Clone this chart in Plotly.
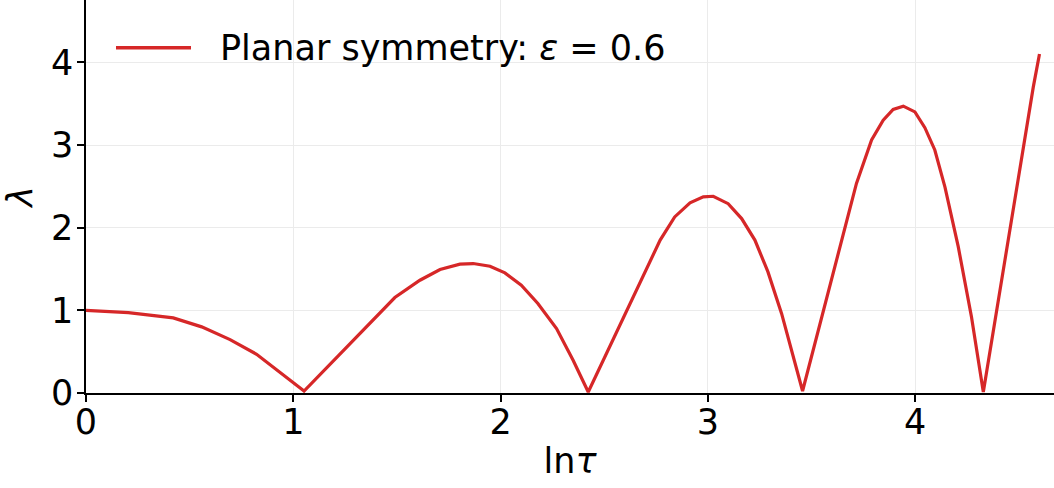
import plotly.graph_objects as go

# data
ln_tau = [0, 0.204, 0.421, 0.558, 0.695, 0.823, 1.052, 1.49, 1.611, 1.708, 1.804, 1.868,
          1.949, 2.021, 2.10, 2.18, 2.27, 2.35, 2.423, 2.77, 2.84, 2.914, 2.978, 3.026,
          3.098, 3.163, 3.227, 3.29, 3.356, 3.457, 3.717, 3.79, 3.846, 3.894, 3.943,
          3.999, 4.047, 4.095, 4.144, 4.208, 4.272, 4.329, 4.57, 4.60]
lam = [1.0, 0.973, 0.908, 0.80, 0.646, 0.469, 0.024, 1.155, 1.364, 1.494, 1.558, 1.566,
       1.534, 1.453, 1.304, 1.082, 0.78, 0.396, 0.012, 1.85, 2.13, 2.30, 2.373, 2.38,
       2.29, 2.11, 1.85, 1.465, 0.96, 0.024, 2.535, 3.06, 3.30, 3.43, 3.47,
       3.40, 3.21, 2.94, 2.49, 1.77, 0.92, 0.012, 3.70, 4.10]
x_ticks = [0, 1, 2, 3, 4]
y_ticks = [0, 1, 2, 3, 4]
legend_label = "Planar symmetry: <i>ε</i> = 0.6"

RED = "#d62728"
FONT = "DejaVu Sans"
W, H = 1054, 488
ML, MB, MT, MR = 86, 95, 0, 0
pw, ph = W - ML - MR, H - MB - MT

fig = go.Figure()
fig.add_trace(go.Scatter(x=ln_tau, y=lam, mode="lines",
                         line=dict(color=RED, width=3.2), showlegend=False,
                         name="Planar symmetry: ε = 0.6"))

axis_common = dict(showline=True, linecolor="black", linewidth=1.5,
                   ticks="outside", ticklen=7, tickwidth=1.5, tickcolor="black",
                   showgrid=True, gridcolor="#ebebeb", gridwidth=1,
                   zeroline=False, tickfont=dict(family=FONT, size=35, color="black"),
                   mirror=False)

fig.update_xaxes(range=[0, 4.67], tickvals=x_ticks, ticktext=[str(t) for t in x_ticks],
                 ticklabelstandoff=-10,
                 title=dict(text="ln<i>τ</i>", font=dict(family=FONT, size=35, color="black"),
                            standoff=8),
                 **axis_common)
fig.update_yaxes(range=[0, 4.754], tickvals=y_ticks, ticktext=[str(t) for t in y_ticks],
                 ticklabelstandoff=-3,
                 title=dict(text="<i>λ</i>", font=dict(family=FONT, size=35, color="black"),
                            standoff=17),
                 **axis_common)

# legend drawn manually (long line sample as in the reference)
ly = (H - MB - 47.7) / ph
fig.add_shape(type="line", xref="paper", yref="paper",
              x0=(116 - ML) / pw, x1=(191 - ML) / pw, y0=ly, y1=ly,
              line=dict(color=RED, width=3.5))
fig.add_annotation(xref="paper", yref="paper", x=(218 - ML) / pw, y=ly,
                   xanchor="left", yanchor="middle", showarrow=False,
                   text=legend_label, font=dict(family=FONT, size=35, color="black"))

fig.update_layout(width=W, height=H, margin=dict(l=ML, r=MR, t=MT, b=MB, autoexpand=False),
                  plot_bgcolor="white", paper_bgcolor="white",
                  font=dict(family=FONT, size=35, color="black"))

fig.write_html("out.html", config={"displayModeBar": False},
               post_script="document.body.style.margin='0';document.body.style.overflow='hidden';")
